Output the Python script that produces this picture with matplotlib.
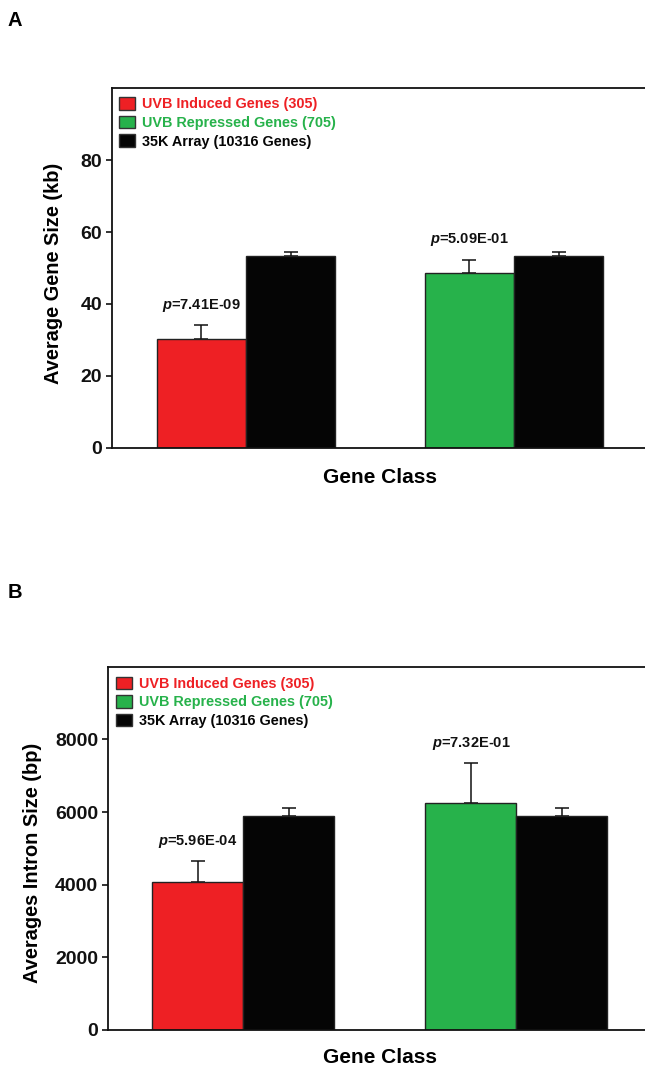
import matplotlib
matplotlib.use("Agg")
import matplotlib.pyplot as plt
from matplotlib.patches import Patch

plt.rcParams['font.family'] = ['Liberation Sans', 'DejaVu Sans']
plt.rcParams['font.weight'] = 'bold'
plt.rcParams['mathtext.fontset'] = 'custom'
plt.rcParams['mathtext.it'] = 'Liberation Sans:italic:bold'
plt.rcParams['mathtext.rm'] = 'Liberation Sans:bold'
plt.rcParams['mathtext.bf'] = 'Liberation Sans:bold'

# ---- data ----
groups = ["UVB Induced", "UVB Repressed"]
legend_labels = ["UVB Induced Genes (305)", "UVB Repressed Genes (705)", "35K Array (10316 Genes)"]

gene_size_class = [30.4, 48.7]      # kb, induced / repressed
gene_size_class_err = [3.7, 3.6]
gene_size_array = [53.2, 53.2]      # kb, 35K array
gene_size_array_err = [1.3, 1.3]
gene_size_p = ["7.41E-09", "5.09E-01"]

intron_class = [4070, 6250]         # bp
intron_class_err = [575, 1090]
intron_array = [5900, 5900]
intron_array_err = [215, 215]
intron_p = ["5.96E-04", "7.32E-01"]

RED = '#EE2024'
GREEN = '#27B24B'
BLACK = '#050505'
class_colors = [RED, GREEN]

W, H = 645, 1070
fig = plt.figure(figsize=(W / 100, H / 100), dpi=100)


def panel(rect, xlim, ylim, yticks, cls, cls_err, arr, arr_err, pvals, ylabel,
          ylab_xy, xlab_y, leg_anchor):
    ax = fig.add_axes(rect)
    w = 0.333
    xs = list(range(len(cls)))
    for i, x in enumerate(xs):
        ax.bar(x - w / 2, cls[i], width=w, color=class_colors[i], edgecolor='#222222',
               linewidth=1.0, zorder=2)
        ax.bar(x + w / 2, arr[i], width=w, color=BLACK, edgecolor='#222222',
               linewidth=1.0, zorder=2)
        ax.errorbar(x - w / 2, cls[i], yerr=[[0], [cls_err[i]]], fmt='none',
                    ecolor='#111111', elinewidth=1.1, capsize=5, capthick=1.1, zorder=1)
        ax.errorbar(x + w / 2, arr[i], yerr=[[0], [arr_err[i]]], fmt='none',
                    ecolor='#111111', elinewidth=1.1, capsize=5, capthick=1.1, zorder=1)
        ax.annotate(r"$\mathit{p}$=" + pvals[i], xy=(x - w / 2, cls[i] + cls_err[i]),
                    xytext=(0, 14.5), textcoords='offset points', ha='center',
                    va='center', fontsize=10.5, fontweight='bold', color='#111111')
    ax.set_xlim(*xlim)
    ax.set_ylim(*ylim)
    ax.set_yticks(yticks)
    ax.set_xticks([])
    ax.tick_params(axis='y', direction='out', length=4, width=1.2, labelsize=14,
                   pad=3, colors='#111111')
    for lab in ax.get_yticklabels():
        lab.set_fontweight('bold')
    for s in ['left', 'top', 'bottom']:
        ax.spines[s].set_linewidth(1.3)
        ax.spines[s].set_color('#111111')
    ax.spines['right'].set_visible(False)
    ax.set_ylabel(ylabel, fontsize=14.4, fontweight='bold', va='center')
    ax.yaxis.set_label_coords(*ylab_xy)
    ax.set_xlabel("Gene Class", fontsize=15, fontweight='bold', va='center')
    ax.xaxis.set_label_coords(0.5, xlab_y)
    handles = [Patch(facecolor=RED, edgecolor='#333333', linewidth=1.0),
               Patch(facecolor=GREEN, edgecolor='#333333', linewidth=1.0),
               Patch(facecolor=BLACK, edgecolor='#333333', linewidth=1.0)]
    leg = ax.legend(handles, legend_labels, loc='upper left', bbox_to_anchor=leg_anchor,
                    frameon=False, fontsize=10.4, handlelength=1.1, handleheight=0.97,
                    handletextpad=0.5, labelspacing=0.3, borderpad=0, borderaxespad=0)
    for t, c in zip(leg.get_texts(), [RED, GREEN, BLACK]):
        t.set_color(c)
        t.set_fontweight('bold')
    return ax


# Panel A
panel([112 / W, 1 - 448 / H, 536 / W, 360 / H], (-0.5, 1.5), (0, 100), [0, 20, 40, 60, 80],
      gene_size_class, gene_size_class_err, gene_size_array, gene_size_array_err,
      gene_size_p, "Average Gene Size (kb)", (-0.110, 0.486), -0.083, (0.013, 0.975))

# Panel B
panel([108 / W, 1 - 1030 / H, 545 / W, 363.3 / H], (-0.495, 1.5), (0, 10000),
      [0, 2000, 4000, 6000, 8000],
      intron_class, intron_class_err, intron_array, intron_array_err,
      intron_p, "Averages Intron Size (bp)", (-0.139, 0.46), -0.077, (0.014, 0.973))

fig.text(8 / W, 1 - 20 / H, "A", fontsize=14.5, fontweight='bold', va='center', ha='left')
fig.text(8 / W, 1 - 593 / H, "B", fontsize=14.5, fontweight='bold', va='center', ha='left')

fig.savefig("out.png", dpi=100)
